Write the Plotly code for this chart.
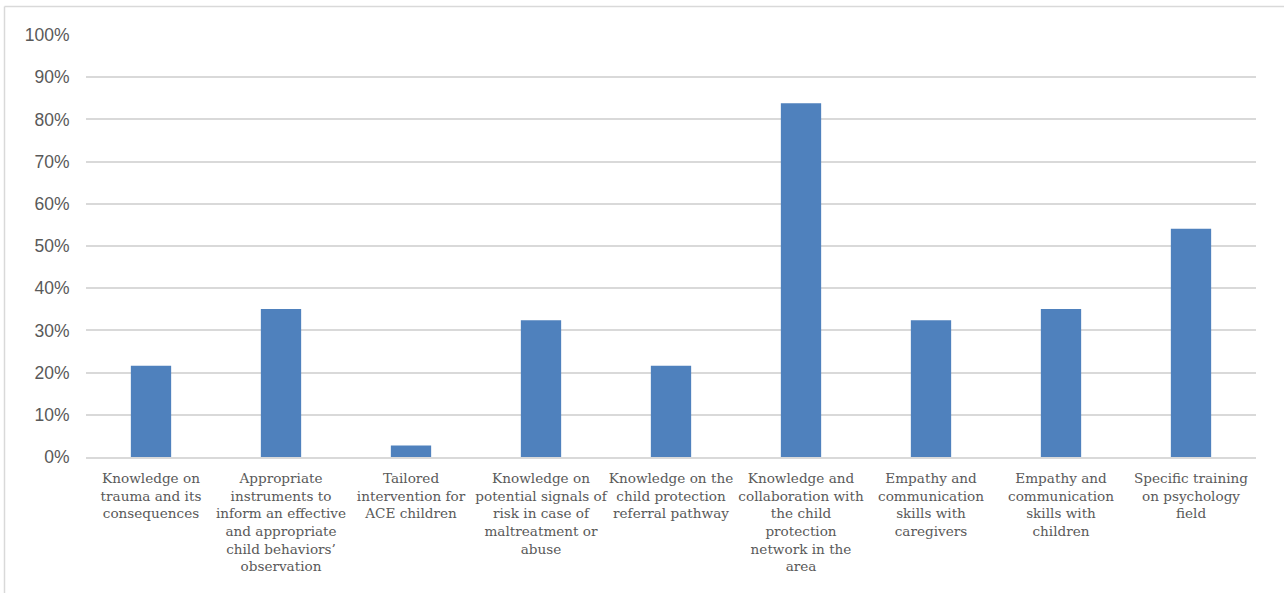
import plotly.graph_objects as go

# Training needs reported by professionals (share of respondents)
categories = [
    "Knowledge on trauma and its consequences",
    "Appropriate instruments to inform an effective and appropriate child behaviors’ observation",
    "Tailored intervention for ACE children",
    "Knowledge on potential signals of risk in case of maltreatment or abuse",
    "Knowledge on the child protection referral pathway",
    "Knowledge and collaboration with the child protection network in the area",
    "Empathy and communication skills with caregivers",
    "Empathy and communication skills with children",
    "Specific training on psychology field",
]
category_labels = [
    "Knowledge on<br>trauma and its<br>consequences",
    "Appropriate<br>instruments to<br>inform an effective<br>and appropriate<br>child behaviors’<br>observation",
    "Tailored<br>intervention for<br>ACE children",
    "Knowledge on<br>potential signals of<br>risk in case of<br>maltreatment or<br>abuse",
    "Knowledge on the<br>child protection<br>referral pathway",
    "Knowledge and<br>collaboration with<br>the child<br>protection<br>network in the<br>area",
    "Empathy and<br>communication<br>skills with<br>caregivers",
    "Empathy and<br>communication<br>skills with<br>children",
    "Specific training<br>on psychology<br>field",
]
shares = [0.216, 0.351, 0.027, 0.324, 0.216, 0.838, 0.324, 0.351, 0.541]
y_ticks = [i / 10 for i in range(11)]
y_tick_labels = [f"{i * 10}%" for i in range(11)]

W, H = 1284, 594
L, R, T, B = 86, 28, 35, 137

fig = go.Figure(
    go.Bar(
        x=categories,
        y=shares,
        marker=dict(color="#4f81bd", line=dict(width=0)),
        width=0.31,
        hoverinfo="x+y",
    )
)

# light frame on the left and top edges
def px_to_paper_x(px):
    return (px - L) / (W - L - R)

def px_to_paper_y(py):
    return (H - B - py) / (H - T - B)

fig.add_shape(type="line", xref="paper", yref="paper",
              x0=px_to_paper_x(4.5), x1=px_to_paper_x(4.5),
              y0=px_to_paper_y(6.5), y1=px_to_paper_y(593),
              line=dict(color="#d9d9d9", width=1.5))
fig.add_shape(type="line", xref="paper", yref="paper",
              x0=px_to_paper_x(4.5), x1=px_to_paper_x(1284),
              y0=px_to_paper_y(6.5), y1=px_to_paper_y(6.5),
              line=dict(color="#d9d9d9", width=1.5))

fig.update_layout(
    width=W,
    height=H,
    margin=dict(l=L, r=R, t=T, b=B, pad=0),
    paper_bgcolor="white",
    plot_bgcolor="white",
    showlegend=False,
    bargap=0.69,
    xaxis=dict(
        tickmode="array",
        tickvals=categories,
        ticktext=category_labels,
        tickangle=0,
        tickfont=dict(family="DejaVu Serif, Liberation Serif, serif", size=13.6, color="#595959"),
        showgrid=False,
        showline=True,
        linecolor="#d9d9d9",
        linewidth=1.5,
        ticks="outside",
        ticklen=8,
        tickcolor="rgba(0,0,0,0)",
    ),
    yaxis=dict(
        range=[0, 1],
        tickmode="array",
        tickvals=y_ticks,
        ticktext=y_tick_labels,
        tickfont=dict(family="Liberation Sans, Arial, sans-serif", size=17.5, color="#595959"),
        showgrid=True,
        gridcolor="#d9d9d9",
        gridwidth=1.5,
        zeroline=False,
        showline=False,
        ticks="outside",
        ticklen=12,
        tickcolor="rgba(0,0,0,0)",
    ),
)

fig.write_html("out.html")
